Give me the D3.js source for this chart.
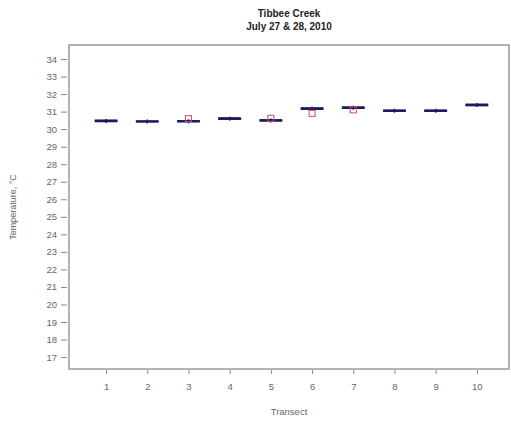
<!DOCTYPE html>
<html><head><meta charset="utf-8">
<script src="https://cdn.jsdelivr.net/npm/d3@7"></script>
<style>body{margin:0;background:#fff}svg{display:block}text{font-family:"Liberation Sans",Arial,sans-serif}</style>
</head><body><svg id="c" width="511" height="421"></svg>
<script>
const transects = [1,2,3,4,5,6,7,8,9,10];
const medians = [30.47,30.44,30.45,30.6,30.5,31.17,31.22,31.05,31.05,31.38];
const q1 = [30.42,30.42,30.42,30.55,30.46,31.12,31.18,31.01,31.01,31.33];
const q3 = [30.52,30.47,30.49,30.65,30.54,31.22,31.27,31.09,31.09,31.43];
const means = [null,null,30.6,null,30.62,30.9,31.1,null,null,null];
const yTicks = d3.range(17,35);

const svg = d3.select("#c");
const L=69,R=509,T=45,B=369;
const x = d3.scaleLinear().domain([0.1,10.78]).range([L,R]);
const y = d3.scaleLinear().domain([16.32,34.8]).range([B,T]);

svg.append("rect").attr("x",L).attr("y",T).attr("width",R-L).attr("height",B-T)
  .attr("fill","none").attr("stroke","#9a9a9a").attr("stroke-width",1.5);

const ya = svg.append("g").attr("transform",`translate(${L-2},0)`)
  .call(d3.axisLeft(y).tickValues(yTicks).tickSize(6).tickPadding(4));
ya.select(".domain").remove();
ya.selectAll("line").attr("stroke","#888");
ya.selectAll("text").attr("fill","#666").attr("font-size",9.5);

const xa = svg.append("g").attr("transform",`translate(0,${B+1})`)
  .call(d3.axisBottom(x).tickValues(transects).tickSize(4).tickPadding(9));
xa.select(".domain").remove();
xa.selectAll("line").attr("stroke","#888");
xa.selectAll("text").attr("fill","#666").attr("font-size",9.5);

const hw=11;
const g = svg.append("g");
transects.forEach((t,i)=>{
  const cx=x(t);
  g.append("rect").attr("x",cx-hw).attr("y",y(q3[i])).attr("width",2*hw)
    .attr("height",Math.max(1,y(q1[i])-y(q3[i]))).attr("fill","#6a6aa0").attr("stroke","#24246a").attr("stroke-width",1);
  g.append("line").attr("x1",cx-hw).attr("x2",cx+hw).attr("y1",y(medians[i])).attr("y2",y(medians[i]))
    .attr("stroke","#1a1a60").attr("stroke-width",2.2);
  g.append("line").attr("x1",cx).attr("x2",cx).attr("y1",y(medians[i])-2).attr("y2",y(medians[i])+2)
    .attr("stroke","#1a1a60").attr("stroke-width",1.5);
  if(means[i]!==null){
    g.append("rect").attr("x",cx-3).attr("y",y(means[i])-3).attr("width",6).attr("height",6)
      .attr("fill","none").attr("stroke","#d04a6a").attr("stroke-width",1);
  }
});

svg.append("text").attr("x",289).attr("y",17).attr("text-anchor","middle")
  .attr("font-size",10).attr("font-weight","bold").attr("fill","#222").text("Tibbee Creek");
svg.append("text").attr("x",289).attr("y",30).attr("text-anchor","middle")
  .attr("font-size",10).attr("font-weight","bold").attr("fill","#222").text("July 27 & 28, 2010");
svg.append("text").attr("x",289).attr("y",415).attr("text-anchor","middle")
  .attr("font-size",9.5).attr("fill","#666").text("Transect");
svg.append("text").attr("transform","translate(16,207) rotate(-90)").attr("text-anchor","middle")
  .attr("font-size",9).attr("fill","#666").text("Temperature, °C");
</script></body></html>
